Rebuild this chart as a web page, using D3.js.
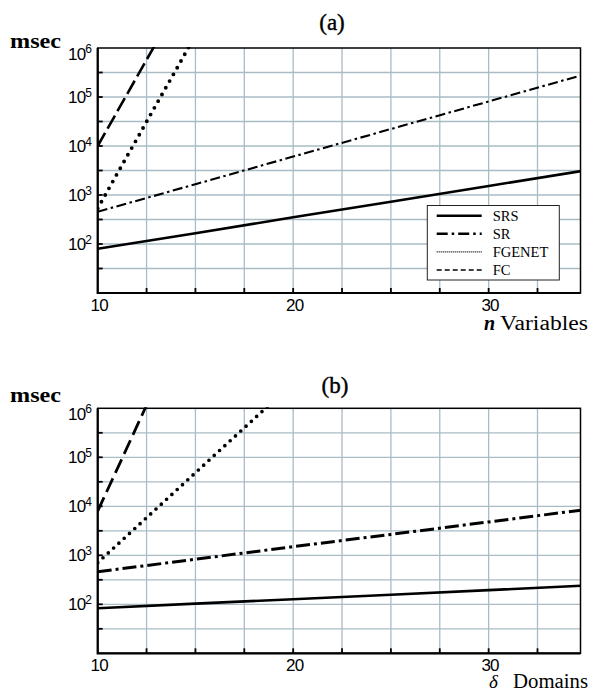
<!DOCTYPE html>
<html>
<head>
<meta charset="utf-8">
<script src="https://cdn.jsdelivr.net/npm/d3@7"></script>
<style>
  body { margin: 0; background: #fff; }
  svg { display: block; }
</style>
</head>
<body>
<svg id="chart"></svg>
<script>
// ---- data (msec on a log axis) ----
const seriesNames = ["SRS", "SR", "FGENET", "FC"];
const yTickExp = [2, 3, 4, 5, 6];
const xTickLabels = [10, 20, 30];

// panel (a): n variables
const nVals = [10, 15, 20, 25, 30, 35];
const srsA = [80, 166, 350, 730, 1530, 3200];
const srA = [456, 1660, 6080, 22200, 81100, 296000];
const fgenetNVals = [10, 11, 12, 13, 14, 15];
const fgenetA = [530, 2750, 13800, 70800, 355000, 1820000];
const fcNVals = [10, 11, 12, 13];
const fcA = [10000, 50600, 256000, 1290000];

// panel (b): delta domains
const dVals = [10, 15, 20, 25, 30, 35];
const srsB = [83, 103, 127, 157, 195, 242];
const srB = [462, 830, 1500, 2670, 4800, 8610];
const fgenetDVals = [10, 12, 14, 16, 18, 20];
const fgenetB = [708, 3840, 20800, 113000, 611000, 3310000];
const fcDVals = [10, 11, 12, 13];
const fcB = [8000, 58000, 427000, 3130000];

const width = 591, height = 693;
const svg = d3.select("#chart").attr("width", width).attr("height", height);

const left = 97.7, right = 580.5, plotH = 245;
const serif = "Liberation Serif, serif";
const sans = "Liberation Sans, Arial, sans-serif";

const zip = (xs, ys) => xs.map((x, i) => [x, ys[i]]);

function drawPanel(cfg, idx) {
  const top = cfg.top, bottom = top + plotH;
  const x = d3.scaleLinear().domain([10, 34.7]).range([left, right]);
  const y = d3.scaleLog().domain([10, 1e6]).range([bottom, top]);

  const g = svg.append("g");

  // grid: every 2.5 on x, every half decade on y
  const xGrid = d3.range(12.5, 34.7, 2.5);
  const yGrid = d3.range(1.5, 6, 0.5).map(e => Math.pow(10, e));
  g.selectAll(".vg").data(xGrid).join("line")
    .attr("x1", d => x(d)).attr("x2", d => x(d))
    .attr("y1", top).attr("y2", bottom)
    .attr("stroke", "#a9bcc6").attr("stroke-width", 1.3);
  g.selectAll(".hg").data(yGrid).join("line")
    .attr("x1", left).attr("x2", right)
    .attr("y1", d => y(d)).attr("y2", d => y(d))
    .attr("stroke", "#a9bcc6").attr("stroke-width", 1.3);

  // inner ticks
  g.selectAll(".xt").data(xGrid).join("line")
    .attr("x1", d => x(d)).attr("x2", d => x(d))
    .attr("y1", bottom).attr("y2", bottom - 5)
    .attr("stroke", "#000").attr("stroke-width", 1.8);
  g.selectAll(".yt").data(yGrid).join("line")
    .attr("x1", left).attr("x2", left + 5)
    .attr("y1", d => y(d)).attr("y2", d => y(d))
    .attr("stroke", "#000").attr("stroke-width", 1.8);

  // frame
  g.append("rect").attr("x", left).attr("y", top)
    .attr("width", right - left).attr("height", plotH)
    .attr("fill", "none").attr("stroke", "#000").attr("stroke-width", 1.5);
  g.append("path")
    .attr("d", `M${left},${top}V${bottom}H${right}`)
    .attr("fill", "none").attr("stroke", "#000").attr("stroke-width", 2.2);

  // y tick labels 10^k
  yTickExp.forEach(e => {
    const t = g.append("text")
      .attr("x", 92).attr("y", y(Math.pow(10, e)) + (e === 6 ? 11.5 : 6))
      .attr("text-anchor", "end")
      .attr("font-family", sans).attr("font-size", 17);
    t.append("tspan").attr("letter-spacing", -0.8).text("10");
    t.append("tspan").attr("font-size", 12).attr("dy", -6.5).text(e);
  });

  // x tick labels
  g.selectAll(".xl").data(xTickLabels).join("text")
    .attr("x", d => x(d) + 1.5).attr("y", bottom + 18)
    .attr("text-anchor", "middle")
    .attr("font-family", sans).attr("font-size", 17)
    .attr("letter-spacing", -0.8)
    .text(d => d);

  // titles
  g.append("text").attr("x", cfg.titleX).attr("y", top + cfg.titleDy)
    .attr("text-anchor", "middle")
    .attr("font-family", serif).attr("font-size", 23)
    .attr("stroke", "#000").attr("stroke-width", 0.4)
    .text(cfg.title);
  g.append("text").attr("x", 10).attr("y", top + cfg.msecDy)
    .attr("font-family", serif).attr("font-size", 22).attr("font-weight", "bold")
    .attr("textLength", 51).attr("lengthAdjust", "spacingAndGlyphs")
    .text("msec");

  // x axis label
  g.append("text").attr("x", cfg.symX).attr("y", bottom + cfg.labelDy)
    .attr("font-family", serif).attr("font-size", cfg.symSize)
    .attr("font-style", "italic").attr("font-weight", cfg.symBold ? "bold" : "normal")
    .text(cfg.sym);
  g.append("text").attr("x", 588).attr("y", bottom + cfg.labelDy)
    .attr("text-anchor", "end")
    .attr("font-family", serif).attr("font-size", 20)
    .attr("textLength", cfg.labelLen).attr("lengthAdjust", "spacingAndGlyphs")
    .text(cfg.label);

  // clip for curves
  const clipId = "clip" + idx;
  svg.append("clipPath").attr("id", clipId)
    .append("rect").attr("x", left).attr("y", top - 1)
    .attr("width", right - left).attr("height", plotH + 1);

  const line = d3.line().x(d => x(d[0])).y(d => y(d[1]));
  const curves = g.append("g").attr("clip-path", `url(#${clipId})`);
  cfg.series.forEach(s => {
    curves.append("path")
      .datum(s.pts)
      .attr("d", line)
      .attr("fill", "none").attr("stroke", "#000")
      .attr("stroke-width", s.w)
      .attr("stroke-dasharray", s.dash)
      .attr("stroke-linecap", s.cap || "butt");
  });

  // legend (panel a only)
  if (cfg.legend) {
    const lg = g.append("g");
    lg.append("rect").attr("x", 427.3).attr("y", 205.5)
      .attr("width", 132).attr("height", 74.5)
      .attr("fill", "#fff").attr("stroke", "#222").attr("stroke-width", 1);
    const legendStyle = [
      { w: 2.6, dash: null },
      { w: 2.6, dash: "11 4 2.5 4" },
      { w: 1.2, dash: "1 1" },
      { w: 1.6, dash: "5 3" }
    ];
    seriesNames.forEach((name, i) => {
      const ly = 215.7 + i * 18.1;
      lg.append("line").attr("x1", 436.7).attr("x2", 481.7)
        .attr("y1", ly).attr("y2", ly)
        .attr("stroke", "#000").attr("stroke-width", legendStyle[i].w)
        .attr("stroke-dasharray", legendStyle[i].dash);
      lg.append("text").attr("x", 492.7).attr("y", ly + 5.3)
        .attr("font-family", serif).attr("font-size", 14.5)
        .text(name);
    });
  }
}

drawPanel({
  top: 48, title: "(a)", titleX: 332, titleDy: -18, msecDy: 0,
  sym: "n", symX: 484, symBold: true, symSize: 20, labelDy: 37,
  label: "Variables", labelLen: 88,
  legend: true,
  series: [
    { pts: zip(nVals, srsA), w: 2.6, dash: null },
    { pts: zip(nVals, srA), w: 2.1, dash: "10 3.5 2.5 3.5" },
    { pts: zip(fgenetNVals, fgenetA), w: 3.9, dash: "0 7.7", cap: "round" },
    { pts: zip(fcNVals, fcA), w: 2.6, dash: "15 5" }
  ]
}, 0);

drawPanel({
  top: 408.3, title: "(b)", titleX: 335, titleDy: -15.5, msecDy: -6.6,
  sym: "δ", symX: 489, symBold: false, symSize: 19, labelDy: 34.5,
  label: "Domains", labelLen: 75,
  legend: false,
  series: [
    { pts: zip(dVals, srsB), w: 2.6, dash: null },
    { pts: zip(dVals, srB), w: 3, dash: "14 4 3 4" },
    { pts: zip(fgenetDVals, fgenetB), w: 3.7, dash: "0 7.2", cap: "round" },
    { pts: zip(fcDVals, fcB), w: 2.8, dash: "15 6" }
  ]
}, 1);
</script>
</body>
</html>
